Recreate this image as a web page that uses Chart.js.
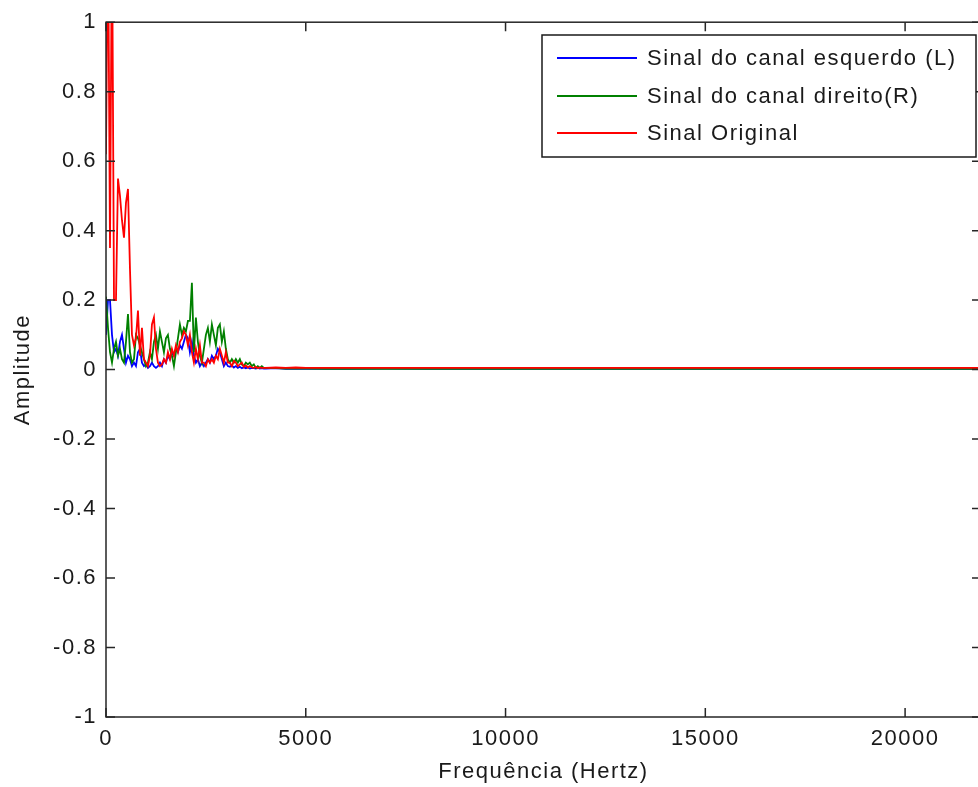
<!DOCTYPE html>
<html>
<head>
<meta charset="utf-8">
<script src="https://cdn.jsdelivr.net/npm/chart.js@4.4.1/dist/chart.umd.min.js"></script>
<style>
  html, body { margin: 0; padding: 0; background: #fff; overflow: hidden; }
  #wrap { width: 978px; height: 787px; overflow: hidden; }
</style>
</head>
<body>
<div id="wrap"><canvas id="espectro" width="990" height="787"></canvas></div>
<script>
// frequency bins (Hz)
var freqHz = [
  0, 50, 100, 150, 200, 250, 300, 350, 400, 450,
  500, 550, 600, 650, 700, 750, 800, 850, 900, 950,
  1000, 1050, 1100, 1150, 1200, 1250, 1300, 1350, 1400, 1450,
  1500, 1550, 1600, 1650, 1700, 1750, 1800, 1850, 1900, 1950,
  2000, 2050, 2100, 2150, 2200, 2250, 2300, 2350, 2400, 2450,
  2500, 2550, 2600, 2650, 2700, 2750, 2800, 2850, 2900, 2950,
  3000, 3050, 3100, 3150, 3200, 3250, 3300, 3350, 3400, 3450,
  3500, 3550, 3600, 3650, 3700, 3750, 3800, 3850, 3900, 3950,
  4000, 4250, 4500, 4750, 5000, 5500, 6000, 7000, 8000, 10000,
  12000, 15000, 18000, 21900
];

var canalEsquerdo = [
  0.1, 0.2, 0.2, 0.1, 0.05, 0.06, 0.04, 0.08, 0.1, 0.06,
  0.02, 0.04, 0.03, 0.01, 0.02, 0.01, 0.05, 0.06, 0.02, 0.01,
  0.015, 0.005, 0.01, 0.02, 0.01, 0.005, 0.01, 0.02, 0.01, 0.03,
  0.02, 0.04, 0.03, 0.05, 0.04, 0.06, 0.05, 0.07, 0.06, 0.08,
  0.1, 0.09, 0.05, 0.08, 0.04, 0.02, 0.03, 0.01, 0.02, 0.01,
  0.02, 0.03, 0.02, 0.04, 0.03, 0.04, 0.06, 0.05, 0.03, 0.01,
  0.02, 0.01, 0.008, 0.012, 0.006, 0.01, 0.005, 0.008, 0.004, 0.006,
  0.004, 0.006, 0.003, 0.005, 0.004, 0.003, 0.005, 0.003, 0.004, 0.003,
  0.003, 0.004, 0.002, 0.003, 0.002, 0.003, 0.002, 0.003, 0.002, 0.002,
  0.002, 0.002, 0.002, 0.002
];

var canalDireito = [
  0.21, 0.12, 0.05, 0.02, 0.06, 0.08, 0.04, 0.06, 0.03, 0.02,
  0.08, 0.16, 0.05, 0.02, 0.03, 0.1, 0.09, 0.07, 0.05, 0.03,
  0.01, 0.02, 0.05, 0.03, 0.08, 0.1, 0.06, 0.11, 0.08, 0.05,
  0.09, 0.1, 0.06, 0.04, 0.01, 0.05, 0.09, 0.13, 0.1, 0.12,
  0.11, 0.14, 0.14, 0.25, 0.05, 0.15, 0.08, 0.04, 0.02, 0.06,
  0.1, 0.12, 0.08, 0.13, 0.1, 0.07, 0.12, 0.13, 0.08, 0.11,
  0.06, 0.03, 0.02, 0.03, 0.02, 0.03, 0.02, 0.03, 0.015, 0.01,
  0.02, 0.015, 0.02, 0.01, 0.015, 0.005, 0.01, 0.005, 0.01, 0.005,
  0.005, 0.004, 0.003, 0.003, 0.003, 0.002, 0.002, 0.002, 0.002, 0.002,
  0.002, 0.002, 0.002, 0.002
];

var sinalOriginal = [
  0.62, 1.3, 0.35, 1.3, 0.2, 0.2, 0.55, 0.5, 0.43, 0.38,
  0.48, 0.52, 0.29, 0.1, 0.07, 0.09, 0.17, 0.04, 0.12, 0.03,
  0.02, 0.01, 0.04, 0.13, 0.15, 0.06, 0.02, 0.01, 0.015, 0.03,
  0.02, 0.05, 0.03, 0.06, 0.04, 0.07, 0.05, 0.08, 0.09, 0.11,
  0.1, 0.07, 0.1, 0.05, 0.02, 0.06, 0.03, 0.07, 0.02, 0.02,
  0.01, 0.03, 0.02, 0.03, 0.02, 0.04, 0.03, 0.06, 0.04, 0.02,
  0.05, 0.02, 0.02, 0.01, 0.025, 0.02, 0.01, 0.015, 0.02, 0.008,
  0.012, 0.006, 0.01, 0.006, 0.005, 0.008, 0.004, 0.006, 0.005, 0.005,
  0.005, 0.006, 0.005, 0.006, 0.005, 0.005, 0.005, 0.005, 0.005, 0.005,
  0.005, 0.005, 0.005, 0.005
];

var legendas = ['Sinal do canal esquerdo (L)', 'Sinal do canal direito(R)', 'Sinal Original'];
var cores = ['#0000ff', '#008000', '#ff0000'];

var xTicks = [0, 5000, 10000, 15000, 20000];
var fonte = '"Liberation Sans", Arial, Helvetica, sans-serif';

function pontos(vals) {
  return vals.map(function(v, i) { return { x: freqHz[i], y: v }; });
}

// MATLAB style box: frame on all sides with inward ticks, and legend box inside
var caixaPlugin = {
  id: 'caixa',
  beforeDraw: function(chart) {
    chart.ctx.letterSpacing = '1.5px';
  },
  afterDraw: function(chart) {
    var ctx = chart.ctx, a = chart.chartArea;
    var sx = chart.scales.x, sy = chart.scales.y;
    var tl = 9;
    ctx.save();
    ctx.strokeStyle = '#262626';
    ctx.lineWidth = 1.5;
    ctx.strokeRect(a.left, a.top, a.right - a.left, a.bottom - a.top);
    ctx.beginPath();
    sx.ticks.forEach(function(t) {
      var px = sx.getPixelForValue(t.value);
      ctx.moveTo(px, a.bottom); ctx.lineTo(px, a.bottom - tl);
      ctx.moveTo(px, a.top); ctx.lineTo(px, a.top + tl);
    });
    sy.ticks.forEach(function(t) {
      var py = sy.getPixelForValue(t.value);
      ctx.moveTo(a.left, py); ctx.lineTo(a.left + tl, py);
      ctx.moveTo(a.right, py); ctx.lineTo(a.right - tl, py);
    });
    ctx.stroke();

    // legend
    var lx = 542, ly = 35, lw = 434, lh = 122;
    ctx.fillStyle = '#fff';
    ctx.fillRect(lx, ly, lw, lh);
    ctx.strokeStyle = '#1a1a1a';
    ctx.lineWidth = 1.5;
    ctx.strokeRect(lx, ly, lw, lh);
    ctx.font = '22px ' + fonte;
    ctx.textBaseline = 'middle';
    ctx.textAlign = 'left';
    ctx.letterSpacing = '1.5px';
    var rows = [58, 96, 133];
    legendas.forEach(function(txt, i) {
      ctx.strokeStyle = cores[i];
      ctx.lineWidth = 1.8;
      ctx.beginPath();
      ctx.moveTo(557, rows[i]); ctx.lineTo(637, rows[i]);
      ctx.stroke();
      ctx.fillStyle = '#1a1a1a';
      ctx.fillText(txt, 647, rows[i] + 1);
    });
    ctx.restore();
  }
};

var ctx = document.getElementById('espectro').getContext('2d');
var grafico = new Chart(ctx, {
  type: 'line',
  data: {
    datasets: [
      { label: legendas[0], data: pontos(canalEsquerdo), borderColor: cores[0], order: 2 },
      { label: legendas[1], data: pontos(canalDireito), borderColor: cores[1], order: 1 },
      { label: legendas[2], data: pontos(sinalOriginal), borderColor: cores[2], order: 0 }
    ]
  },
  options: {
    responsive: false,
    animation: false,
    devicePixelRatio: 1,
    layout: { padding: { left: 0, top: 22, right: 9, bottom: 0 } },
    elements: {
      point: { radius: 0 },
      line: { borderWidth: 1.8, tension: 0 }
    },
    plugins: {
      legend: { display: false },
      tooltip: { enabled: false }
    },
    scales: {
      x: {
        type: 'linear',
        min: 0,
        max: 21900,
        afterFit: function(s) { s.height = 70; },
        afterBuildTicks: function(s) {
          s.ticks = xTicks.map(function(v) { return { value: v }; });
        },
        grid: { display: false, drawTicks: false },
        border: { display: false },
        ticks: {
          padding: 9,
          color: '#1a1a1a',
          font: { family: fonte, size: 22 },
          maxRotation: 0,
          callback: function(v) { return String(v); }
        },
        title: {
          display: true,
          text: 'Frequência (Hertz)',
          color: '#1a1a1a',
          font: { family: fonte, size: 22 },
          padding: { top: 0, bottom: 2 }
        }
      },
      y: {
        min: -1,
        max: 1,
        afterFit: function(s) { s.width = 106; },
        grid: { display: false, drawTicks: false },
        border: { display: false },
        ticks: {
          stepSize: 0.2,
          padding: 9,
          color: '#1a1a1a',
          font: { family: fonte, size: 22 },
          callback: function(v) { return String(Math.round(v * 10) / 10); }
        },
        title: {
          display: true,
          text: 'Amplitude',
          color: '#1a1a1a',
          font: { family: fonte, size: 22 },
          padding: { top: 10, bottom: 0 }
        }
      }
    }
  },
  plugins: [caixaPlugin]
});
</script>
</body>
</html>
